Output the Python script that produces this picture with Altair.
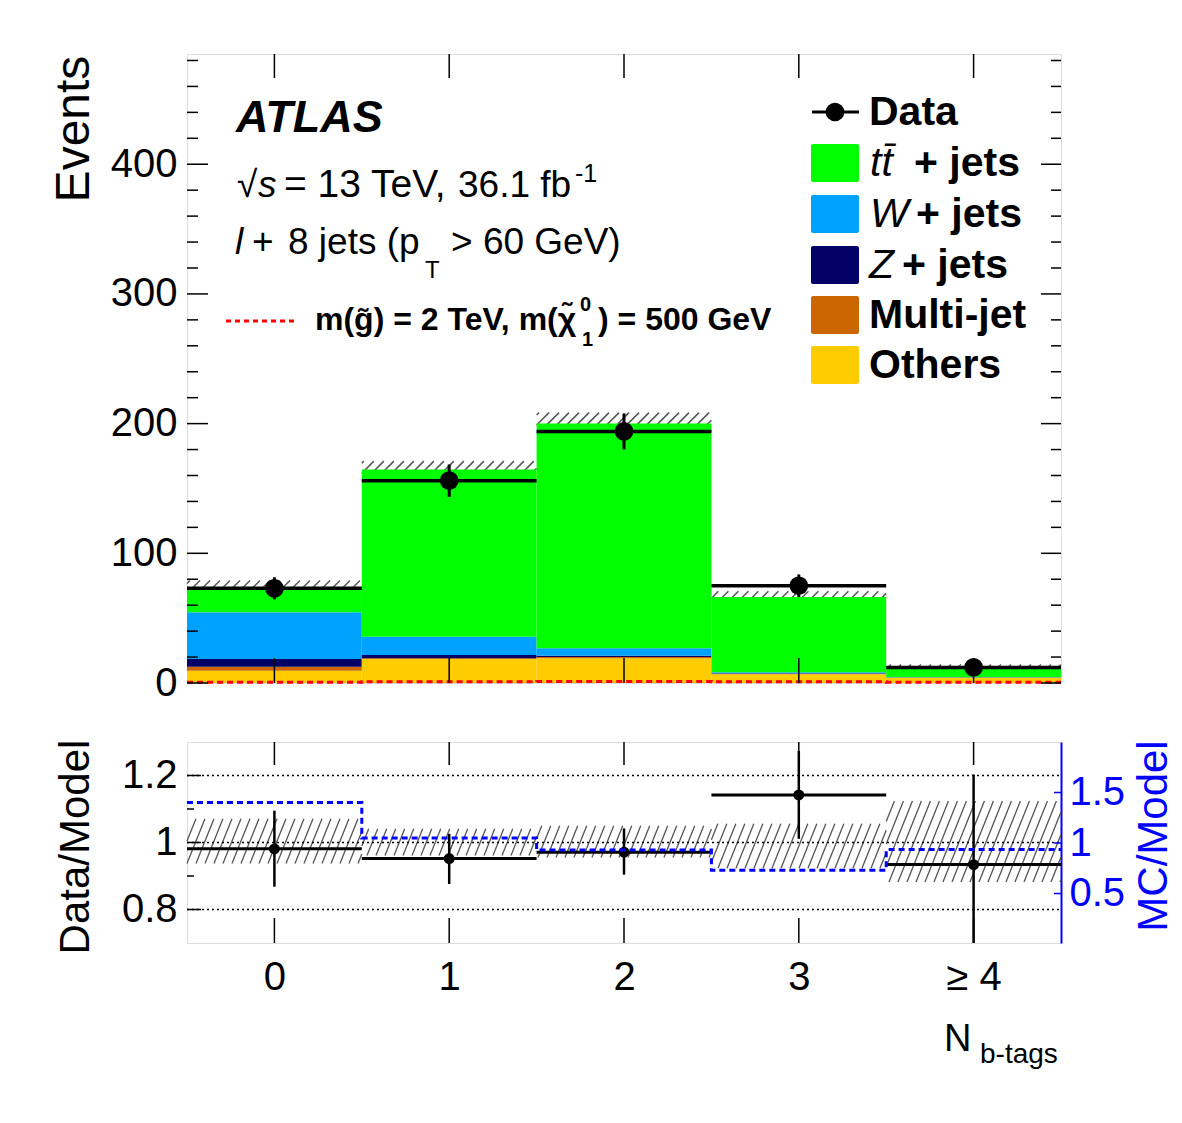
import math
import altair as alt
import pandas as pd

FONT = "Liberation Sans"

# ---------------- data ----------------
bins = [0, 1, 2, 3, 4]
bin_labels = ["0", "1", "2", "3", "≥ 4"]

proc_names = ["Others", "Multi-jet", "Z+jets", "W+jets", "ttbar+jets"]
proc_colors = ["#ffcc00", "#cc6600", "#000066", "#00a2ff", "#00ff00"]
others = [9.5, 18.5, 19.0, 6.8, 4.2]
multijet = [3.0, 0.5, 1.0, 0.4, 0.1]
zjets = [6.0, 2.5, 1.0, 0.3, 0.05]
wjets = [36.0, 14.1, 5.7, 0.7, 0.2]
ttbar = [19.5, 129.0, 173.3, 58.2, 8.2]

data_counts = [73, 156, 194, 75, 12]
data_err = [8.5, 12.5, 13.9, 8.7, 3.5]
model_err = [5.0, 6.5, 8.5, 4.4, 1.5]
signal = [0.6, 0.9, 1.2, 1.0, 0.6]

ratio = [0.981, 0.952, 0.971, 1.142, 0.934]
ratio_lo = [0.868, 0.876, 0.904, 1.011, 0.66]
ratio_hi = [1.095, 1.026, 1.042, 1.273, 1.203]
band_lo = [0.937, 0.961, 0.955, 0.923, 0.882]
band_hi = [1.071, 1.041, 1.050, 1.056, 1.124]
mc_model = [1.40, 1.05, 0.93, 0.73, 0.935]

top_y_major = [0, 100, 200, 300, 400]
top_y_minor = [v for v in range(20, 485, 20) if v % 100 != 0]
ratio_y_major = [0.8, 1.0, 1.2]
ratio_y_minor = [0.9, 1.1]
mc_ticks = [0.5, 1.0, 1.5]

# ---------------- layout ----------------
W, H1, H2 = 874, 629, 201
TOP_MAX = 485
R_MIN, R_MAX = 0.7, 1.3
MC_MIN, MC_MAX = 0.01, 2.0
TICK_FS = 40

xs = alt.Scale(domain=[-0.5, 4.5], nice=False, zero=False)
ys_top = alt.Scale(domain=[0, TOP_MAX], nice=False, zero=False)
ys_rat = alt.Scale(domain=[R_MIN, R_MAX], nice=False, zero=False)
ys_mc = alt.Scale(domain=[MC_MIN, MC_MAX], nice=False, zero=False)

label_expr = "[" + ",".join("'" + s + "'" for s in bin_labels) + "][datum.value]"

top_y_axis = alt.Axis(values=top_y_major, labelFontSize=TICK_FS, labelFont=FONT,
                      labelColor="black", tickSize=0, domain=False, grid=False,
                      labelPadding=10, title=None)
rat_x_axis = alt.Axis(values=bins, labelExpr=label_expr, labelFontSize=TICK_FS,
                      labelFont=FONT, labelColor="black", tickSize=0, domain=False,
                      grid=False, labelPadding=14, title=None)
rat_y_axis = alt.Axis(values=ratio_y_major, orient="left", format="~g",
                      labelFontSize=TICK_FS, labelFont=FONT, labelColor="black",
                      tickSize=0, domain=False, grid=False, labelPadding=10, title=None)
mc_axis = alt.Axis(values=mc_ticks, orient="right", format="~g", labelFontSize=TICK_FS,
                   labelFont=FONT, labelColor="#0000ff", tickSize=0, domain=True,
                   domainColor="#0000ff", domainWidth=2, grid=False,
                   labelPadding=8, title=None)

one = alt.Data(values=[{}])


def txt(text, x, y, size, color="black", weight="normal", style="normal",
        align="left", angle=0):
    return alt.Chart(one).mark_text(
        text=text, align=align, baseline="alphabetic", fontSize=size,
        font=FONT, fontWeight=weight, fontStyle=style, color=color, angle=angle
    ).encode(x=alt.value(x), y=alt.value(y))


def hatch(xlo, xhi, ylo, yhi, sx, sy, spacing, slope):
    Wp = (xhi - xlo) * sx
    Hp = (yhi - ylo) * sy
    segs = []
    gx = (xlo + 0.5) * sx
    c = math.floor((gx - Hp / slope) / spacing) * spacing - gx
    while c < Wp:
        u0 = max(0.0, c)
        u1 = min(Wp, c + Hp / slope)
        if u1 > u0 + 0.5:
            v0 = slope * (u0 - c)
            v1 = slope * (u1 - c)
            segs.append(dict(x=xlo + u0 / sx, y=ylo + v0 / sy,
                             x2=xlo + u1 / sx, y2=ylo + v1 / sy))
        c += spacing
    return segs


sx = W / 5.0
sy_top = H1 / TOP_MAX
sy_rat = H2 / (R_MAX - R_MIN)

# ---------------- top panel ----------------
rows = []
proc_vals = [others, multijet, zjets, wjets, ttbar]
for i, b in enumerate(bins):
    base = 0.0
    for name, vals in zip(proc_names, proc_vals):
        rows.append(dict(bin=b, process=name, y0=base, y1=base + vals[i]))
        base += vals[i]
stack_df = pd.DataFrame(rows)

totals = [sum(v[i] for v in proc_vals) for i in range(len(bins))]
hatch_top = []
for i, b in enumerate(bins):
    hatch_top += hatch(b - 0.5, b + 0.5, totals[i] - model_err[i],
                       totals[i] + model_err[i], sx, sy_top, 10, 1.0)
hatch_top_df = pd.DataFrame(hatch_top)

data_df = pd.DataFrame(dict(bin=bins, n=data_counts, e=data_err))
sig_df = pd.DataFrame(dict(x=[b - 0.5 for b in bins] + [bins[-1] + 0.5],
                           y=signal + [signal[-1]]))

hatch_top_layer = alt.Chart(hatch_top_df).mark_rule(
    color="#555555", strokeWidth=1.5).encode(
    x=alt.X("x:Q", scale=xs, axis=None), x2="x2:Q",
    y=alt.Y("y:Q", scale=ys_top, axis=top_y_axis), y2="y2:Q")

stack_layer = alt.Chart(stack_df).transform_calculate(
    xlo="datum.bin - 0.5", xhi="datum.bin + 0.5"
).mark_rect().encode(
    x=alt.X("xlo:Q", scale=xs, axis=None), x2="xhi:Q",
    y=alt.Y("y0:Q", scale=ys_top, axis=top_y_axis), y2="y1:Q",
    color=alt.Color("process:N", scale=alt.Scale(domain=proc_names, range=proc_colors),
                    legend=None))

sig_layer = alt.Chart(sig_df).mark_line(
    interpolate="step-after", color="#ff0000", strokeDash=[6, 4], strokeWidth=3
).encode(x=alt.X("x:Q", scale=xs, axis=None),
         y=alt.Y("y:Q", scale=ys_top, axis=top_y_axis))

data_h = alt.Chart(data_df).transform_calculate(
    xlo="datum.bin - 0.5", xhi="datum.bin + 0.5"
).mark_rule(color="black", strokeWidth=3.5).encode(
    x=alt.X("xlo:Q", scale=xs, axis=None), x2="xhi:Q",
    y=alt.Y("n:Q", scale=ys_top, axis=top_y_axis))
data_v = alt.Chart(data_df).transform_calculate(
    lo="datum.n - datum.e", hi="datum.n + datum.e"
).mark_rule(color="black", strokeWidth=3).encode(
    x=alt.X("bin:Q", scale=xs, axis=None),
    y=alt.Y("lo:Q", scale=ys_top, axis=top_y_axis), y2="hi:Q")
data_p = alt.Chart(data_df).mark_circle(color="black", opacity=1, size=350).encode(
    x=alt.X("bin:Q", scale=xs, axis=None),
    y=alt.Y("n:Q", scale=ys_top, axis=top_y_axis))


def yticks(values, scale, x0, x1, axis, color="black", width=1.5):
    return alt.Chart(pd.DataFrame(dict(v=values))).mark_rule(
        color=color, strokeWidth=width).encode(
        y=alt.Y("v:Q", scale=scale, axis=axis), x=alt.value(x0), x2=alt.value(x1))


def xticks(values, y0, y1, axis, width=1.5):
    return alt.Chart(pd.DataFrame(dict(v=values))).mark_rule(
        color="black", strokeWidth=width).encode(
        x=alt.X("v:Q", scale=xs, axis=axis), y=alt.value(y0), y2=alt.value(y1))


top_ticks = [
    yticks(top_y_major, ys_top, 0, 21, top_y_axis),
    yticks(top_y_minor, ys_top, 0, 11, top_y_axis),
    yticks(top_y_major, ys_top, W, W - 20, top_y_axis),
    yticks(top_y_minor, ys_top, W, W - 10, top_y_axis),
    xticks(bins, H1, H1 - 25, None), xticks(bins, 0, 24, None),
]

top_text = [
    txt("ATLAS", 49, 78, 45, weight="bold", style="italic"),
    txt("√", 50, 143, 37),
    txt("s", 71, 143, 37, style="italic"),
    txt("= 13 TeV,", 97, 143, 39),
    txt("36.1 fb", 271, 143, 37),
    txt("-1", 388, 128, 25),
    txt("l", 48, 200, 37, style="italic"),
    txt("+", 65, 200, 37),
    txt("8 jets (p", 101, 200, 37),
    txt("T", 238, 224, 24),
    txt("> 60 GeV)", 264, 200, 37),
    alt.Chart(one).mark_rule(color="#ff0000", strokeWidth=3, strokeDash=[5, 4]).encode(
        x=alt.value(39), x2=alt.value(109), y=alt.value(267)),
    txt("m(g̃) = 2 TeV, m(χ̃", 128, 276, 32, weight="bold"),
    txt("0", 393, 257, 20, weight="bold"),
    txt("1", 395, 292, 20, weight="bold"),
    txt(") = 500 GeV", 411, 276, 32, weight="bold"),
    txt("Events", -98, 75, 48, align="center", angle=270),
]

# legend (right)
leg_rows = [58, 109, 160, 211, 261, 311]
legend = [
    alt.Chart(one).mark_rule(color="black", strokeWidth=3).encode(
        x=alt.value(625), x2=alt.value(672), y=alt.value(leg_rows[0])),
    alt.Chart(one).mark_circle(color="black", opacity=1, size=350).encode(
        x=alt.value(648), y=alt.value(leg_rows[0])),
    txt("Data", 682, leg_rows[0] + 13, 41, weight="bold"),
]
for k, (name, col) in enumerate(zip(proc_names[::-1], proc_colors[::-1])):
    yc = leg_rows[k + 1]
    legend.append(alt.Chart(one).mark_rect(color=col, cornerRadius=2).encode(
        x=alt.value(624), x2=alt.value(672), y=alt.value(yc - 19), y2=alt.value(yc + 19)))
legend += [
    txt("tt̄", 683, leg_rows[1] + 13, 41, style="italic"),
    txt("+ jets", 727, leg_rows[1] + 13, 41, weight="bold"),
    txt("W", 683, leg_rows[2] + 13, 41, style="italic"),
    txt("+ jets", 729, leg_rows[2] + 13, 41, weight="bold"),
    txt("Z", 682, leg_rows[3] + 13, 41, style="italic"),
    txt("+ jets", 715, leg_rows[3] + 13, 41, weight="bold"),
    txt("Multi-jet", 682, leg_rows[4] + 13, 41, weight="bold"),
    txt("Others", 682, leg_rows[5] + 13, 41, weight="bold"),
]

top = alt.layer(hatch_top_layer, stack_layer, sig_layer, data_h, data_v, data_p,
                *top_ticks, *top_text, *legend).properties(width=W, height=H1)

# ---------------- ratio panel ----------------
hatch_r = []
for i, b in enumerate(bins):
    hatch_r += hatch(b - 0.5, b + 0.5, band_lo[i], band_hi[i], sx, sy_rat, 9, 2.5)
hatch_r_df = pd.DataFrame(hatch_r)

rdf = pd.DataFrame(dict(bin=bins, r=ratio, lo=ratio_lo, hi=ratio_hi))
mc_df = pd.DataFrame(dict(x=[b - 0.5 for b in bins] + [bins[-1] + 0.5],
                          y=mc_model + [mc_model[-1]]))

hatch_r_layer = alt.Chart(hatch_r_df).mark_rule(color="#555555", strokeWidth=1.3).encode(
    x=alt.X("x:Q", scale=xs, axis=rat_x_axis), x2="x2:Q",
    y=alt.Y("y:Q", scale=ys_rat, axis=rat_y_axis), y2="y2:Q")

dotted = alt.Chart(pd.DataFrame(dict(v=ratio_y_major))).mark_rule(
    color="black", strokeWidth=1.5, strokeDash=[2, 3]).encode(
    y=alt.Y("v:Q", scale=ys_rat, axis=None), x=alt.value(0), x2=alt.value(W))

r_h = alt.Chart(rdf).transform_calculate(
    xlo="datum.bin - 0.5", xhi="datum.bin + 0.5"
).mark_rule(color="black", strokeWidth=3).encode(
    x=alt.X("xlo:Q", scale=xs, axis=rat_x_axis), x2="xhi:Q",
    y=alt.Y("r:Q", scale=ys_rat, axis=None))
r_v = alt.Chart(rdf).mark_rule(color="black", strokeWidth=2.5, clip=True).encode(
    x=alt.X("bin:Q", scale=xs, axis=rat_x_axis),
    y=alt.Y("lo:Q", scale=ys_rat, axis=None), y2="hi:Q")
r_p = alt.Chart(rdf).mark_circle(color="black", opacity=1, size=120).encode(
    x=alt.X("bin:Q", scale=xs, axis=rat_x_axis),
    y=alt.Y("r:Q", scale=ys_rat, axis=None))

r_ticks = [
    yticks(ratio_y_major, ys_rat, 0, 14, None), yticks(ratio_y_minor, ys_rat, 0, 7, None),
    xticks(bins, H2, H2 - 25, rat_x_axis), xticks(bins, 0, 23, rat_x_axis),
]

mc_line = alt.Chart(mc_df).mark_line(
    interpolate="step-after", color="#0000ff", strokeDash=[6, 4], strokeWidth=3
).encode(
    x=alt.X("x:Q", scale=xs, axis=rat_x_axis),
    y=alt.Y("y:Q", scale=ys_mc, axis=mc_axis))
mc_ticks_layer = alt.Chart(pd.DataFrame(dict(v=mc_ticks))).mark_rule(
    color="#0000ff", strokeWidth=1.5).encode(
    y=alt.Y("v:Q", scale=ys_mc, axis=None), x=alt.value(W), x2=alt.value(W - 7))

r_text = [
    txt("Data/Model", -98, 105, 42, align="center", angle=270),
    txt("MC/Model", 980, 94, 42, color="#0000ff", align="center", angle=270),
    txt("N", 757, 309, 38),
    txt("b-tags", 793, 321, 28),
]

ratio_chart = alt.layer(
    hatch_r_layer, dotted, r_h, r_v, r_p, *r_ticks, *r_text, mc_line, mc_ticks_layer
).resolve_scale(y="independent").properties(width=W, height=H2)

chart = alt.vconcat(top, ratio_chart, spacing=35).properties(
    padding={"left": 50, "top": 52, "right": 5, "bottom": 5}
).configure_view(stroke="black", strokeWidth=2).configure(background="white")

chart.save("out.html", embed_options={"renderer": "svg", "actions": False})
